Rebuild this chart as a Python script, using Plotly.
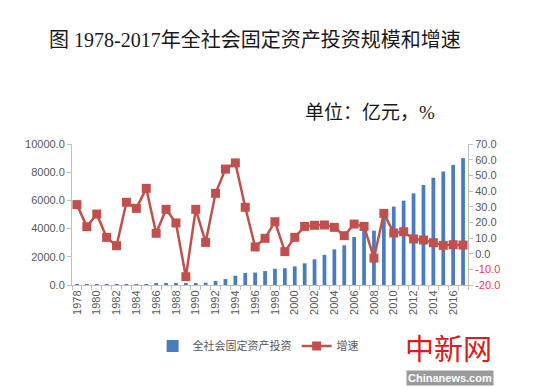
import plotly.graph_objects as go

years = list(range(1978, 2018))
investment = [10, 12, 15, 17, 20, 40, 55, 70, 80, 95,
              110, 100, 120, 170, 290, 420, 660, 860, 880, 990,
              1150, 1190, 1320, 1540, 1820, 2140, 2530, 2820, 3400, 3950,
              3850, 5050, 5560, 5980, 6500, 7090, 7610, 8050, 8520, 9000]
growth = [31.3, 17.2, 25.3, 10.4, 5.1, 32.8, 28.9, 41.7, 13.0, 28.3,
          19.6, -14.7, 28.3, 7.2, 38.5, 54.0, 57.9, 29.6, 4.3, 9.8,
          20.4, 1.3, 10.4, 17.4, 18.1, 18.3, 16.8, 11.5, 18.9, 17.4,
          -2.8, 25.7, 13.2, 14.0, 9.4, 8.7, 7.0, 5.3, 5.7, 5.5]
left_ticks = [0, 2000, 4000, 6000, 8000, 10000]
right_ticks = [-20, -10, 0, 10, 20, 30, 40, 50, 60, 70]
x_labels = list(range(1978, 2017, 2))

title = "图 1978-2017年全社会固定资产投资规模和增速"
unit = "单位：亿元，%"
bar_name = "全社会固定资产投资"
line_name = "增速"

BLUE = "#4a7dbf"
RED = "#c0504d"
GRAY = "#595959"
AXIS = "#bfbfbf"
FONT = "Noto Sans CJK SC, Liberation Sans, sans-serif"
SERIF_MIX = "Liberation Serif, Noto Sans CJK SC, serif"

fig = go.Figure()
fig.add_trace(go.Bar(x=years, y=investment, name=bar_name,
                     marker=dict(color=BLUE, line=dict(width=0)), yaxis="y"))
fig.add_trace(go.Scatter(x=years, y=growth, name=line_name, mode="lines+markers",
                         line=dict(color=RED, width=2.5),
                         marker=dict(symbol="square", size=9, color=RED), yaxis="y2"))

right_text = []
for v in right_ticks:
    s = f"{v:.1f}"
    if v < 0:
        s = f"<span style='color:#e0405a'>{s}</span>"
    right_text.append(s)

L, R, T, B = 72, 72, 144, 102
W, H = 540, 387

fig.update_layout(
    width=W, height=H,
    margin=dict(l=L, r=R, t=T, b=B),
    paper_bgcolor="white", plot_bgcolor="white",
    font=dict(family=FONT, color=GRAY, size=11),
    bargap=0.62,
    showlegend=True,
    legend=dict(orientation="h", x=0.47, xanchor="center", y=-0.33, yanchor="top",
                font=dict(size=11, color=GRAY), itemwidth=30),
    xaxis=dict(range=[1977.5, 2017.5], tickmode="array", tickvals=x_labels,
               ticktext=[str(v) for v in x_labels], tickangle=-90,
               showline=True, linecolor=AXIS, linewidth=1, ticks="", showgrid=False,
               zeroline=False, tickfont=dict(size=11, color=GRAY, family="Liberation Sans, sans-serif"),
               minor=dict(tickvals=[y + 0.5 for y in range(1977, 2018)], ticks="outside",
                          ticklen=4, tickcolor=AXIS)),
    yaxis=dict(range=[0, 10000], tickvals=left_ticks,
               ticktext=[f"{v:.1f}" for v in left_ticks],
               showline=True, linecolor=AXIS, ticks="outside", ticklen=4, tickcolor=AXIS,
               showgrid=False, zeroline=False,
               tickfont=dict(size=11, color=GRAY, family="Liberation Sans, sans-serif")),
    yaxis2=dict(range=[-20, 70], tickvals=right_ticks, ticktext=right_text,
                overlaying="y", side="right",
                showline=True, linecolor=AXIS, ticks="outside", ticklen=4, tickcolor=AXIS,
                showgrid=False, zeroline=False,
                tickfont=dict(size=11, color=GRAY, family="Liberation Sans, sans-serif")),
)

# annotations given in pixel positions, converted to paper coordinates
pixel_annotations = [
    dict(text=title, px=255, py=40, font=dict(size=20, color="#1a1a1a", family=SERIF_MIX)),
    dict(text=unit, px=370, py=112, font=dict(size=19, color="#1a1a1a", family=SERIF_MIX)),
    dict(text="中新网", px=448, py=347, font=dict(size=29, color="#d42020", family="Noto Sans CJK SC")),
    dict(text="<b>Chinanews.com</b>", px=450, py=378, bgcolor="#9a9a9a", borderpad=1,
         font=dict(size=11, color="white", family="Liberation Sans")),
]
for a in pixel_annotations:
    px, py = a.pop("px"), a.pop("py")
    fig.add_annotation(xref="paper", yref="paper", showarrow=False,
                       x=(px - L) / (W - L - R), y=1 - (py - T) / (H - T - B),
                       xanchor="center", yanchor="middle", **a)

fig.write_html("out.html", config={"displayModeBar": False},
               post_script="document.body.style.margin='0';")
